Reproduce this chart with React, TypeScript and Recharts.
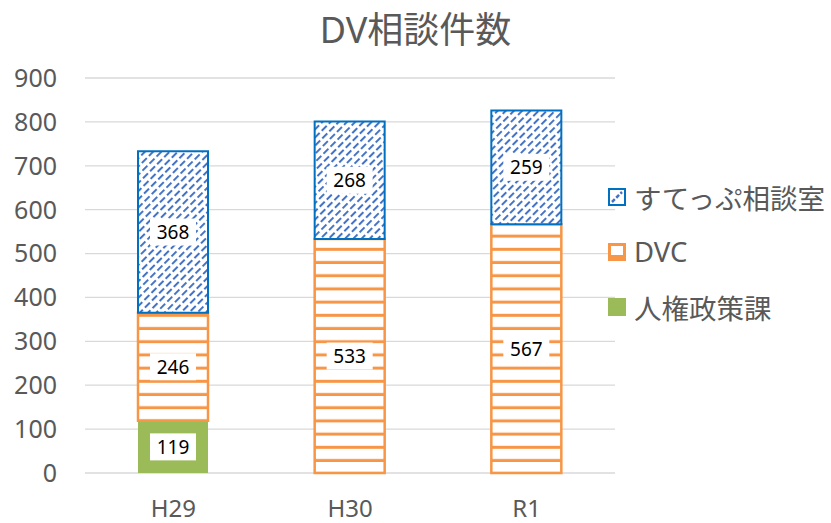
import React from 'react';
import { BarChart, Bar, XAxis, YAxis, CartesianGrid, LabelList } from 'recharts';

const categories = ['H29', 'H30', 'R1'];
const jinkenValues = [119, 0, 0];
const dvcValues = [246, 533, 567];
const suteppuValues = [368, 268, 259];
const yTicks = [0, 100, 200, 300, 400, 500, 600, 700, 800, 900];

const seriesNames = ['すてっぷ相談室', 'DVC', '人権政策課'];

const data = categories.map((name, i) => ({
  name,
  jinken: jinkenValues[i],
  dvc: dvcValues[i],
  suteppu: suteppuValues[i],
}));

const FONT = "'Noto Sans', 'Noto Sans CJK JP', sans-serif";
const TEXT = '#595959';
const BLUE = '#0070C0';
const BLUE_PAT = '#4472C4';
const ORANGE = '#F79646';
const GREEN = '#9BBB59';

const renderLabel = (props: any) => {
  const { x, y, width, height, value } = props;
  if (!value) return null;
  const cx = x + width / 2;
  const cy = y + height / 2;
  return (
    <g>
      <rect x={cx - 23} y={cy - 13.5} width={46} height={27} fill="#fff" />
      <text x={cx} y={cy} textAnchor="middle" dominantBaseline="central" fontSize={19} fill="#000" fontFamily={FONT}>
        {value}
      </text>
    </g>
  );
};

const LegendIcon = ({ kind }: { kind: number }) => {
  if (kind === 0) {
    return (
      <svg width={18} height={18}>
        <rect x={1} y={1} width={16} height={16} fill="#fff" stroke={BLUE} strokeWidth={2} />
        <line x1={4} y1={14} x2={14} y2={4} stroke={BLUE_PAT} strokeWidth={2.5} strokeDasharray="4 2" />
      </svg>
    );
  }
  if (kind === 1) {
    return (
      <svg width={18} height={18}>
        <rect x={1.5} y={1.5} width={15} height={15} fill="#fff" stroke={ORANGE} strokeWidth={3} />
        <rect x={1.5} y={12} width={15} height={4} fill={ORANGE} />
      </svg>
    );
  }
  return (
    <svg width={18} height={18}>
      <rect x={0} y={0} width={18} height={18} fill={GREEN} />
    </svg>
  );
};

export default function App() {
  return (
    <div style={{ position: 'absolute', left: 0, top: 0, width: 831, height: 523, background: '#fff', fontFamily: FONT }}>
      <div style={{ position: 'absolute', left: 0, top: 10, width: 831, textAlign: 'center', fontSize: 36, lineHeight: '40px', color: TEXT }}>
        DV相談件数
      </div>
      <BarChart width={831} height={523} data={data} margin={{ top: 78, right: 216, bottom: 0, left: 0 }} barSize={70}>
        <defs>
          <pattern id="diag" patternUnits="userSpaceOnUse" width={10} height={11.6} patternTransform="rotate(-45)">
            <rect width={10} height={11.6} fill="#fff" />
            <rect x={0} y={0} width={7} height={2} fill={BLUE_PAT} />
            <rect x={5} y={5.8} width={5} height={2} fill={BLUE_PAT} />
            <rect x={0} y={5.8} width={2} height={2} fill={BLUE_PAT} />
          </pattern>
          <pattern id="hstripe" patternUnits="userSpaceOnUse" width={10} height={13.2}>
            <rect width={10} height={13.2} fill="#fff" />
            <rect x={0} y={10.2} width={10} height={3} fill={ORANGE} />
          </pattern>
        </defs>
        <CartesianGrid vertical={false} stroke="#D9D9D9" strokeWidth={1.3} />
        <XAxis
          dataKey="name"
          height={50}
          axisLine={false}
          tickLine={false}
          tickMargin={21}
          tick={{ fill: TEXT, fontSize: 24, fontFamily: FONT }}
        />
        <YAxis
          width={85}
          domain={[0, 900]}
          ticks={yTicks}
          axisLine={false}
          tickLine={false}
          tickMargin={22}
          tick={{ fill: TEXT, fontSize: 25, fontFamily: FONT }}
        />
        <Bar dataKey="jinken" stackId="a" fill={GREEN} isAnimationActive={false}>
          <LabelList dataKey="jinken" content={renderLabel} />
        </Bar>
        <Bar dataKey="dvc" stackId="a" fill="url(#hstripe)" stroke={ORANGE} strokeWidth={2.5} isAnimationActive={false}>
          <LabelList dataKey="dvc" content={renderLabel} />
        </Bar>
        <Bar dataKey="suteppu" stackId="a" fill="url(#diag)" stroke={BLUE} strokeWidth={2} isAnimationActive={false}>
          <LabelList dataKey="suteppu" content={renderLabel} />
        </Bar>
      </BarChart>
      <div style={{ position: 'absolute', left: 608, top: 169 }}>
        {seriesNames.map((n, i) => (
          <div key={n} style={{ display: 'flex', alignItems: 'center', height: 55, fontSize: 27.5, color: TEXT }}>
            <LegendIcon kind={i} />
            <span style={{ marginLeft: 8 }}>{n}</span>
          </div>
        ))}
      </div>
    </div>
  );
}
